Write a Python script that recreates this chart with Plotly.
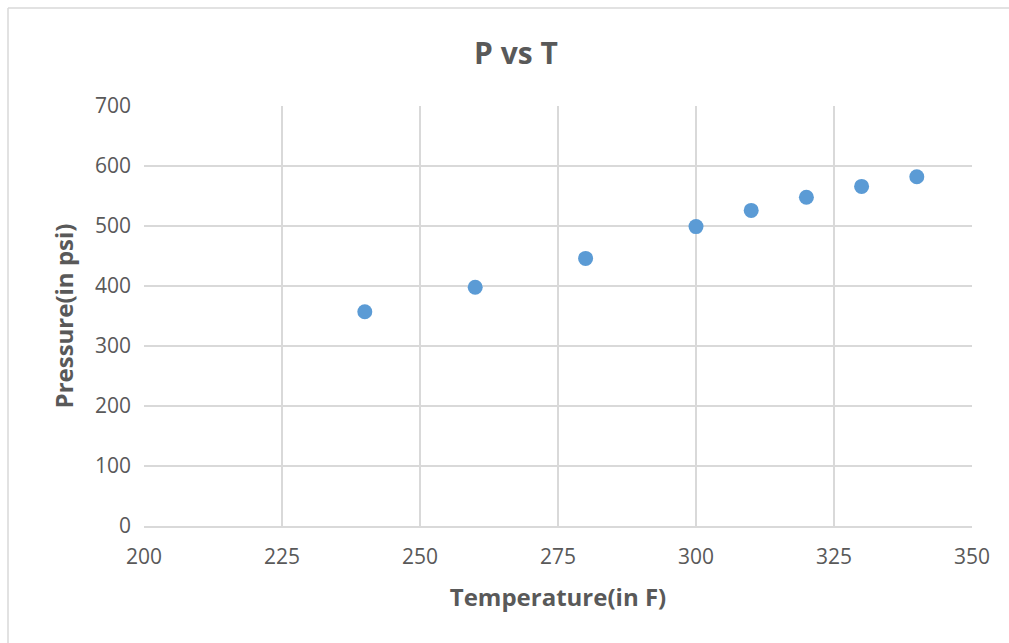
import plotly.graph_objects as go

temperature = [240, 260, 280, 300, 310, 320, 330, 340]
pressure = [357, 398, 446, 499, 526, 548, 566, 582]

x_ticks = [200, 225, 250, 275, 300, 325, 350]
y_ticks = [0, 100, 200, 300, 400, 500, 600, 700]

TEXT = "#595959"
GRID = "#D9D9D9"
FONT = "Open Sans"

fig = go.Figure()
fig.add_trace(go.Scatter(
    x=temperature, y=pressure, mode="markers",
    marker=dict(size=15, color="#5B9BD5", line=dict(width=0)),
    showlegend=False,
))

L, R, T, B = 144, 37, 106, 117
W, H = 1009, 643
pw, ph = W - L - R, H - T - B

fig.update_layout(
    width=W, height=H,
    margin=dict(l=L, r=R, t=T, b=B),
    paper_bgcolor="white", plot_bgcolor="white",
    font=dict(family=FONT, color=TEXT),
    title=dict(text="<b>P vs T</b>", x=516 / W, xanchor="center",
               y=1 - 53 / H, yanchor="middle", yref="container",
               font=dict(size=30, color=TEXT, family=FONT)),
    xaxis=dict(range=[200, 350], tickvals=x_ticks, ticktext=[str(v) for v in x_ticks],
               showgrid=True, gridcolor=GRID, gridwidth=1.5,
               showline=True, linecolor=GRID, linewidth=1.5,
               zeroline=False, ticks="", ticklabelstandoff=11,
               tickfont=dict(size=21, color=TEXT),
               title=dict(text="<b>Temperature(in F)</b>", standoff=20,
                          font=dict(size=24, color=TEXT))),
    yaxis=dict(range=[0, 700], tickvals=y_ticks, ticktext=[str(v) for v in y_ticks],
               showgrid=True, gridcolor=GRID, gridwidth=1.5,
               showline=False, zeroline=False, ticks="", ticklabelstandoff=12,
               tickfont=dict(size=21, color=TEXT),
               title=dict(text="<b>Pressure(in psi)</b>", standoff=14,
                          font=dict(size=24, color=TEXT))),
)

# chart-area border (top and left edges visible)
x0 = (8 - L) / pw
x1 = (W + 5 - L) / pw
ytop = (H - B - 8) / ph
ybot = -(B + 5) / ph
fig.add_shape(type="line", xref="paper", yref="paper", x0=x0, x1=x1, y0=ytop, y1=ytop,
              line=dict(color=GRID, width=1.5))
fig.add_shape(type="line", xref="paper", yref="paper", x0=x0, x1=x0, y0=ybot, y1=ytop,
              line=dict(color=GRID, width=1.5))

fig.write_html("out.html")
